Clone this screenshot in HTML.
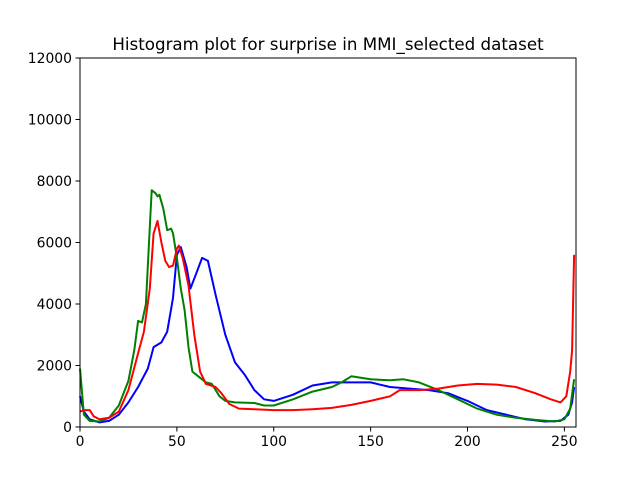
<!DOCTYPE html>
<html><head><meta charset="utf-8"><style>body{margin:0;background:#fff}svg{display:block;font-family:"DejaVu Sans","Liberation Sans",sans-serif}</style></head>
<body>
<svg id="chart" width="640" height="480">
<rect x="0" y="0" width="640" height="480" fill="#fff"/>
<text x="328" y="50" font-size="16.7" text-anchor="middle">Histogram plot for surprise in MMI_selected dataset</text>
<g id="series"></g>
<g id="axes"></g>
</svg>
<script>
const xTicks=[0,50,100,150,200,250];
const yTicks=[0,2000,4000,6000,8000,10000,12000];
const blueX=[0,2,5,10,15,20,25,30,35,38,42,45,48,50,52,55,57,60,63,66,70,75,80,85,90,95,100,110,120,130,140,150,160,170,180,190,200,210,220,230,240,248,252,254,255];
const blueY=[1000,500,250,150,200,400,800,1300,1900,2600,2750,3100,4200,5600,5850,5200,4500,5000,5500,5400,4300,3000,2100,1700,1200,900,850,1050,1350,1450,1450,1450,1300,1250,1200,1100,850,550,400,250,180,200,400,800,1300];
const greenX=[0,2,5,10,15,20,25,28,30,32,34,36,37,39,40,41,43,45,47,48,50,52,54,56,58,62,65,68,72,75,80,90,95,100,110,120,130,135,140,145,150,160,167,175,185,195,205,215,225,235,245,250,253,255];
const greenY=[1900,400,200,180,300,700,1500,2500,3450,3400,4000,6500,7700,7600,7500,7550,7100,6400,6450,6300,5500,4500,3800,2600,1800,1600,1450,1400,1000,850,800,780,700,700,900,1150,1300,1450,1650,1600,1550,1520,1550,1450,1200,900,600,400,300,230,180,250,600,1550];
const redX=[0,2,5,7,10,15,20,25,30,33,36,38,40,42,44,46,48,50,51,53,56,59,62,65,70,73,77,82,90,100,110,120,130,140,150,160,165,175,185,195,205,215,225,235,243,248,251,253,254,255];
const redY=[500,550,550,350,250,300,500,1200,2400,3100,4500,6300,6700,6000,5400,5200,5250,5800,5900,5500,4600,3000,1800,1400,1300,1100,750,600,580,550,550,580,620,720,850,1000,1200,1200,1250,1350,1400,1380,1300,1100,900,800,1000,1800,2500,5600];
const L=80,R=576,T=58,B=427,XMAX=256,YMAX=12000;
const sx=v=>L+v*(R-L)/XMAX, sy=v=>B-v*(B-T)/YMAX;
const NS='http://www.w3.org/2000/svg';
const sg=document.getElementById('series'), ag=document.getElementById('axes');
function mk(tag,attrs,parent){const e=document.createElementNS(NS,tag);for(const k in attrs)e.setAttribute(k,attrs[k]);parent.appendChild(e);return e;}
function line(xs,ys,color,name){
  const d=xs.map((x,i)=>(i?'L':'M')+sx(x).toFixed(1)+','+sy(ys[i]).toFixed(1)).join(' ');
  const p=mk('path',{d:d,fill:'none',stroke:color,'stroke-width':2,'stroke-linejoin':'round'},sg);
  
  
}
line(blueX,blueY,'#0000ff','blue-channel-line');
line(greenX,greenY,'#008000','green-channel-line');
line(redX,redY,'#ff0000','red-channel-line');
const frame=mk('rect',{x:L,y:T,width:R-L,height:B-T,fill:'none',stroke:'#000','stroke-width':1},ag);


xTicks.forEach(t=>{
  const x=sx(t);
  const tk=mk('line',{x1:x,x2:x,y1:B,y2:B+4.5,stroke:'#000'},ag);
  
  
  const tx=mk('text',{x:x,y:B+19,'font-size':13.9,'text-anchor':'middle'},ag);
  tx.textContent=t;
  
  
});
yTicks.forEach(t=>{
  const y=sy(t);
  const tk=mk('line',{x1:L-4.5,x2:L,y1:y,y2:y,stroke:'#000'},ag);
  
  
  const tx=mk('text',{x:L-8,y:y+5,'font-size':13.9,'text-anchor':'end'},ag);
  tx.textContent=t;
  
  
});
</script>
</body></html>
